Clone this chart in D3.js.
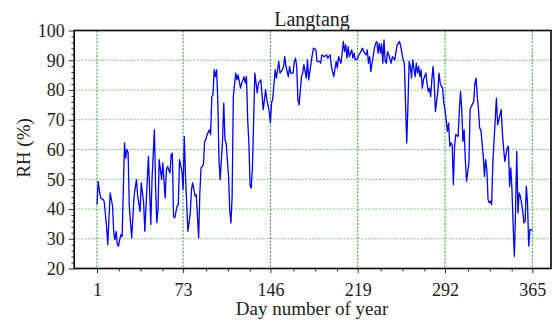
<!DOCTYPE html>
<html>
<head>
<meta charset="utf-8">
<script src="https://cdn.jsdelivr.net/npm/d3@7"></script>
<style>
  body { margin: 0; background: #fff; }
  svg text { font-family: 'Liberation Serif', 'Times New Roman', Times, 'DejaVu Serif', serif !important; fill: #222; }
</style>
</head>
<body>
<script>
const width = 552;
const height = 322;

// daily RH at Langtang
const days = [1, 2, 3, 4, 6, 7, 9, 10, 12, 14, 15, 16, 17, 18, 19, 20, 21, 22, 24, 25, 26, 27, 28, 30, 32, 34, 35, 37, 38, 40,
    41, 44, 46, 47, 49, 50, 51, 52, 53, 55, 56, 58, 59, 60, 62, 63, 64, 65, 66, 68, 69, 70, 72, 73, 74, 75, 77, 79, 80, 81,
    83, 84, 86, 87, 88, 90, 91, 92, 93, 95, 96, 97, 98, 99, 100, 101, 102, 103, 104, 106, 107, 108, 109, 111, 112, 113, 114, 115, 117, 118,
    119, 121, 122, 124, 125, 126, 127, 128, 129, 130, 131, 132, 133, 135, 136, 138, 139, 140, 142, 143, 145, 146, 147, 148, 150, 151, 152, 153, 154, 156,
    157, 158, 159, 161, 162, 163, 165, 166, 167, 168, 169, 170, 172, 173, 174, 176, 177, 178, 180, 181, 182, 184, 185, 187, 188, 189, 191, 193, 194, 196,
    197, 198, 199, 201, 202, 203, 205, 206, 207, 208, 209, 210, 211, 212, 214, 215, 216, 217, 219, 220, 221, 223, 224, 226, 227, 228, 229, 230, 231, 233,
    234, 235, 236, 237, 238, 239, 240, 241, 242, 243, 244, 245, 247, 248, 250, 251, 252, 254, 255, 257, 258, 259, 260, 261, 262, 263, 264, 265, 267, 268,
    269, 270, 271, 272, 273, 274, 276, 277, 278, 279, 280, 281, 282, 283, 284, 286, 287, 288, 289, 290, 291, 292, 293, 294, 295, 296, 297, 298, 299, 300,
    301, 303, 304, 305, 306, 307, 308, 309, 310, 312, 313, 314, 316, 317, 318, 319, 320, 321, 322, 324, 325, 326, 327, 328, 329, 330, 331, 332, 334, 335,
    336, 338, 339, 340, 341, 342, 344, 345, 346, 347, 348, 349, 350, 351, 352, 353, 354, 355, 356, 357, 358, 359, 360, 361, 362, 363, 365];
const rh = [41.5, 49.3, 46, 43.8, 43.2, 42.6, 34.2, 28, 45.4, 41, 32, 29.7, 32.5, 28, 27.5, 29.7, 31.4, 30.7, 62.2, 57.1, 60, 59, 41, 30.3, 44.3, 49.9, 44.3, 39.2, 48.8, 42.1,
    32.5, 57.7, 34.8, 49.9, 66.6, 47.6, 35.4, 39.8, 56.6, 49.9, 55.5, 43.7, 53.2, 54.3, 52.1, 58.3, 58.8, 37.6, 37, 41, 41.5, 56.6, 52.7, 46.5, 64.4, 51, 32.5, 38.7, 46.5, 48.8,
    44.3, 44.8, 30.3, 45.4, 53.8, 54.9, 62.7, 63.3, 65, 66.6, 65, 77.8, 78.4, 86.8, 84.5, 86.8, 76.7, 56.6, 49.9, 63.3, 75.6, 63.3, 62.2, 51, 39.8, 35.3, 44.3, 77.8, 85.7, 83.4,
    85.1, 80.6, 82.3, 84.5, 82.3, 84.5, 70, 62.2, 48, 47, 54.3, 70, 85.7, 79, 82.3, 83.4, 78.4, 73.4, 80.1, 76.7, 72.8, 68.9, 75.6, 77.3, 86.8, 84, 86.8, 89.6, 85.7, 86.8,
    87.9, 91.2, 87.9, 84.5, 87.9, 85.7, 85.7, 89.6, 90.7, 87.9, 76.7, 75, 84.5, 85.7, 88.5, 84, 90.1, 83.4, 89, 91.8, 94.1, 93.5, 89.6, 89.6, 89, 91.8, 91.2, 91.8, 90.7, 91.8,
    87.9, 86.2, 84.5, 89.6, 87.4, 91.2, 89, 92.4, 96.3, 92.9, 95.2, 90.7, 94.6, 91.2, 93.5, 90.7, 92.4, 90.1, 90.7, 91.8, 92.4, 94.1, 92.9, 91.8, 93.5, 89, 91.2, 86.2, 89, 94.1,
    95.7, 96.3, 92.4, 95.7, 92.4, 95.5, 89, 96.8, 89.6, 89, 92.9, 91.8, 89, 91.2, 90.1, 92.9, 95.2, 96.3, 94.6, 90.1, 89, 75.6, 62.2, 74.5, 89.6, 87.9, 84, 90.1, 84.5, 89,
    85.7, 87.9, 84.5, 86.8, 80.6, 83.4, 85.7, 82.3, 79.5, 80.6, 77.8, 83.4, 87.9, 82.3, 72.8, 79.5, 85.7, 82.3, 81.2, 80.6, 75.6, 73.4, 70, 66.1, 68.9, 61.1, 62.2, 61.6, 48.2, 61.1,
    65, 64.4, 73.4, 79.5, 73.4, 62.7, 66.6, 56.6, 49.3, 55.5, 73.4, 74.5, 76.1, 82.3, 84, 77.8, 73.4, 67.2, 66.6, 57.7, 51, 56.6, 53.2, 43.2, 42.1, 42.6, 41.5, 55.5, 70, 77.3,
    68.3, 71.7, 73.4, 65.5, 60.5, 56, 60.5, 61.1, 47.6, 53.8, 46.5, 34.2, 24.1, 39.8, 59.4, 38.7, 45.4, 44.3, 42.1, 39.2, 35.3, 35.9, 47.6, 42.1, 27.5, 33.1, 33.1];

const x_ticks = [1, 73, 146, 219, 292, 365];
const y_ticks = [20, 30, 40, 50, 60, 70, 80, 90, 100];
const x_minor = d3.range(1, 20).filter(k => k % 4 !== 0).map(k => 1 + k * 18.25);
const y_minor = d3.range(22, 100, 2).filter(v => v % 10 !== 0);

const frame = {left: 74.2, right: 551, top: 30.5, bottom: 268.5};
const serif = "'Liberation Serif', 'Times New Roman', Times, 'DejaVu Serif', serif";

const svg = d3.select('body')
    .append('svg')
    .attr('width', width)
    .attr('height', height)
    .style('font-family', serif);

const x_scale = d3.scaleLinear()
    .domain([1, 365])
    .range([97, 532.3]);
const y_scale = d3.scaleLinear()
    .domain([20, 100])
    .range([frame.bottom, frame.top]);

// grid
const grid = svg.append('g')
    .attr('stroke', '#2ca02c')
    .attr('stroke-width', 1)
    .attr('stroke-dasharray', '2,1.5');
grid.selectAll('line.h')
    .data(y_ticks.filter(v => v > 20 && v < 100))
    .enter().append('line')
    .attr('class', 'h')
    .attr('x1', frame.left)
    .attr('x2', frame.right)
    .attr('y1', d => y_scale(d))
    .attr('y2', d => y_scale(d))
    .attr('stroke-opacity', 0.6);
grid.selectAll('line.v')
    .data(x_ticks)
    .enter().append('line')
    .attr('class', 'v')
    .attr('x1', d => x_scale(d))
    .attr('x2', d => x_scale(d))
    .attr('y1', frame.top)
    .attr('y2', frame.bottom);

const series = days.map((d, i) => ({day: d, value: rh[i]}));
svg.append('path')
    .datum(series)
    .attr('fill', 'none')
    .attr('stroke', '#0000ff')
    .attr('stroke-width', 1.3)
    .attr('stroke-linejoin', 'round')
    .attr('d', d3.line()
        .x(d => x_scale(d.day))
        .y(d => y_scale(d.value)));

// axes
svg.append('g')
    .attr('transform', `translate(${frame.left},0)`)
    .call(d3.axisLeft(y_scale).tickValues(y_ticks).tickSize(5.5).tickPadding(4).tickFormat(d3.format('d')));
svg.append('g')
    .attr('transform', `translate(${frame.left},0)`)
    .call(d3.axisLeft(y_scale).tickValues(y_minor).tickSize(2.8).tickFormat(''));
svg.append('g')
    .attr('transform', `translate(0,${frame.bottom})`)
    .call(d3.axisBottom(x_scale).tickValues(x_ticks).tickSize(4.5).tickPadding(10).tickFormat(d3.format('d')));
svg.append('g')
    .attr('transform', `translate(0,${frame.bottom})`)
    .call(d3.axisBottom(x_scale).tickValues(x_minor).tickSize(3).tickFormat(''));

svg.selectAll('.domain').remove();
svg.selectAll('g').attr('font-family', null);
svg.selectAll('.tick line').attr('stroke', '#333').attr('stroke-width', 1);
svg.selectAll('.tick text')
    .attr('font-size', 18)
    .style('font-family', serif)
    .attr('fill', '#222');

svg.append('rect')
    .attr('x', frame.left)
    .attr('y', frame.top)
    .attr('width', frame.right - frame.left)
    .attr('height', frame.bottom - frame.top)
    .attr('fill', 'none')
    .attr('stroke', '#111')
    .attr('stroke-width', 1.7);

svg.append('text')
    .attr('x', 312)
    .attr('y', 26)
    .attr('text-anchor', 'middle')
    .attr('font-size', 20)
    .style('font-family', serif)
    .text('Langtang');

svg.append('text')
    .attr('x', 312)
    .attr('y', 315)
    .attr('text-anchor', 'middle')
    .attr('font-size', 19)
    .style('font-family', serif)
    .text('Day number of year');

svg.append('text')
    .attr('transform', 'translate(30,148) rotate(-90)')
    .attr('text-anchor', 'middle')
    .attr('font-size', 19)
    .style('font-family', serif)
    .text('RH (%)');
</script>
</body>
</html>
